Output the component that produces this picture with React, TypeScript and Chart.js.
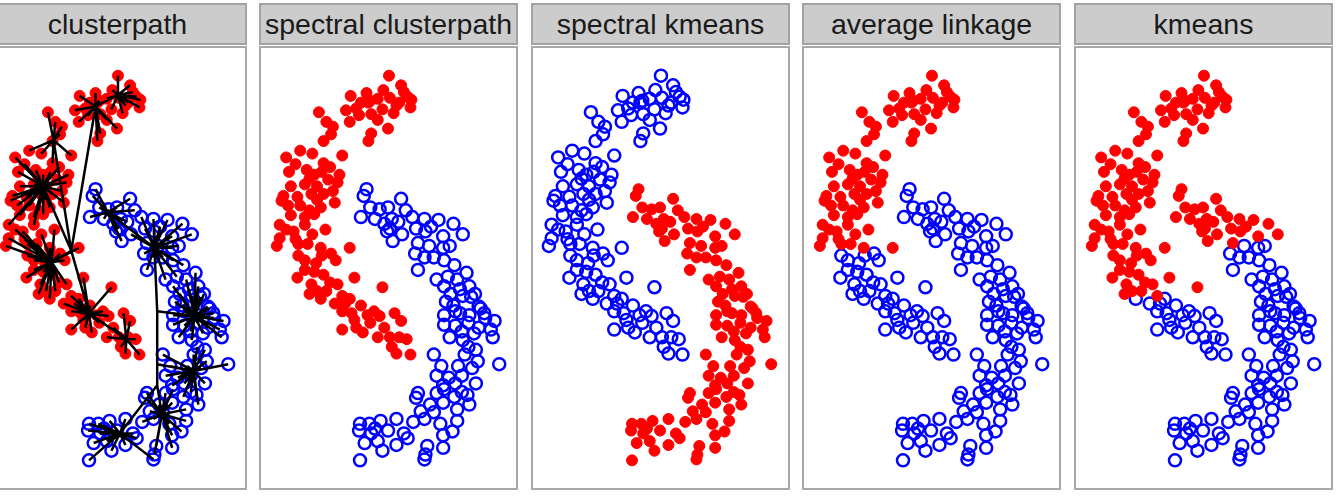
import React, { useEffect, useRef } from 'react';
import { Chart, registerables } from 'chart.js';

Chart.register(...registerables);

// ---------- DATA (x, y in plot units; same points in every panel) ----------
const panelTitles: string[] = ['clusterpath', 'spectral clusterpath', 'spectral kmeans', 'average linkage', 'kmeans'];

const leftMoonUpper: [number, number][] = [
  [130, 422], [143, 412], [146, 405], [124, 407], [106, 404], [89, 401], [154, 397], [131, 399], [141, 394],
  [108, 394], [100, 394], [123, 387], [153, 389], [138, 391], [84, 386], [98, 381], [111, 382], [118, 376],
  [88, 374], [129, 367], [111, 362], [108, 354], [110, 396], [55, 384], [63, 374], [70, 369], [68, 361],
  [60, 354], [35, 344], [48, 341], [20, 337], [80, 339], [60, 331], [23, 322], [42, 324], [50, 319], [77, 319],
  [65, 314], [25, 307], [40, 309], [53, 307], [75, 311], [17, 297], [47, 299], [60, 299], [70, 302], [15, 292],
  [35, 287], [53, 293], [57, 285], [72, 290], [25, 277], [40, 275], [50, 278], [13, 267], [28, 260], [40, 267],
  [48, 257], [13, 253], [10, 245], [33, 247], [43, 247], [57, 243], [88, 243],
  [118, 398], [135, 383], [150, 400], [95, 388], [30, 330], [45, 315], [67, 327], [32, 296], [58, 322],
  [20, 262], [30, 252], [45, 282], [62, 262], [22, 287],
];

const leftMoonMiddle: [number, number][] = [
  [33, 235], [58, 235], [68, 237], [73, 230], [52, 227], [40, 220], [50, 218], [32, 212], [93, 212],
  [47, 205], [67, 207], [75, 205], [53, 198], [63, 198], [80, 193], [123, 202], [40, 230], [60, 215], [45, 195],
];

const leftMoonTail: [number, number][] = [
  [57, 190], [72, 185], [83, 185], [100, 183], [80, 177], [90, 175], [107, 173], [120, 172], [93, 168],
  [80, 158], [95, 160], [102, 155], [114, 177], [136, 175], [143, 167], [131, 150], [141, 150], [149, 148],
  [133, 140], [138, 133], [153, 132], [88, 190], [110, 165], [125, 160], [118, 150],
];

const rightMoonTop: [number, number][] = [
  [103, 297], [106, 304], [100, 275], [110, 285], [115, 273], [120, 283], [125, 268], [128, 260], [143, 294],
  [148, 282], [129, 285], [133, 273], [131, 263], [134, 250], [144, 257], [168, 273], [183, 272], [199, 268],
  [209, 257], [159, 263], [169, 260], [188, 255], [161, 248], [140, 270], [155, 275], [175, 265],
];

const rightMoonRest: [number, number][] = [
  [173, 245], [188, 243], [158, 237], [168, 233], [178, 233], [189, 230], [161, 220], [181, 210], [193, 213],
  [213, 217], [203, 210], [189, 203], [206, 200], [216, 203], [196, 195], [209, 193], [218, 192], [199, 183],
  [226, 182], [189, 173], [206, 175], [216, 173], [233, 170], [243, 167], [189, 163], [201, 162], [226, 160],
  [239, 158], [191, 187], [201, 177], [228, 180], [208, 156], [221, 154], [209, 147], [241, 150], [223, 137],
  [178, 132], [211, 132], [248, 122], [186, 120], [204, 120], [219, 118], [181, 110], [194, 108], [208, 110],
  [188, 100], [201, 102], [223, 102], [161, 92], [181, 92], [208, 93], [159, 87], [189, 96], [214, 90],
  [216, 80], [174, 80], [188, 82], [203, 75], [164, 73], [178, 72], [156, 62], [168, 65], [203, 63], [99, 60],
  [109, 60], [121, 63], [138, 65], [129, 53], [98, 53], [146, 50], [111, 50], [188, 48], [198, 52], [104, 40],
  [118, 42], [138, 38], [171, 37], [188, 35], [123, 32], [169, 28], [168, 23], [99, 22],
  [195, 245], [200, 225], [222, 195], [232, 175], [215, 165], [195, 150], [215, 140], [225, 125], [200, 88],
  [185, 60], [150, 45], [115, 55],
];

// which point groups are coloured red in each panel (the rest are blue)
const redGroupsByPanel: string[][] = [
  ['leftMoonUpper', 'leftMoonMiddle', 'leftMoonTail'],
  ['leftMoonUpper', 'leftMoonMiddle', 'leftMoonTail'],
  ['rightMoonTop', 'rightMoonRest'],
  ['leftMoonUpper'],
  ['leftMoonUpper', 'leftMoonMiddle', 'rightMoonTop'],
];

// clusterpath tree (panel 1): nodes and edges
const treeNodeNames: string[] = ['rA1', 'rA2', 'rB', 'rC', 'jR', 'rD', 'rF', 'rG', 'bA', 'bB', 'j1', 'bC', 'j2', 'bD', 'j3', 'bE', 'bF'];
const treeNodeXY: [number, number][] = [
  [130, 402], [106, 390], [61, 355], [50, 307], [80, 240], [59, 228], [99, 175], [139, 148],
  [119, 280], [169, 243], [172, 177], [212, 172], [172, 122], [211, 115], [172, 100], [177, 70], [132, 50],
];
const treeEdges: [string, string][] = [
  ['rA1', 'rA2'], ['rA2', 'jR'], ['rB', 'jR'], ['rC', 'jR'], ['rD', 'jR'], ['jR', 'rF'], ['rF', 'rG'],
  ['bA', 'bB'], ['bB', 'j1'], ['j1', 'bC'], ['j1', 'j2'], ['j2', 'bD'], ['j2', 'j3'], ['j3', 'bE'], ['j3', 'bF'],
];
const redHubs: string[] = ['rA1', 'rA2', 'rB', 'rC', 'rD', 'rF', 'rG'];
const blueHubs: string[] = ['bA', 'bB', 'bC', 'bD', 'bE', 'bF'];

// ---------- helpers ----------
const groups: Record<string, [number, number][]> = {
  leftMoonUpper, leftMoonMiddle, leftMoonTail, rightMoonTop, rightMoonRest,
};

const nodeXY = (name: string) => treeNodeXY[treeNodeNames.indexOf(name)];

function nearestHub(p: [number, number], hubs: string[]) {
  let best = nodeXY(hubs[0]);
  let bd = Infinity;
  hubs.forEach((h) => {
    const q = nodeXY(h);
    const d = (q[0] - p[0]) ** 2 + (q[1] - p[1]) ** 2;
    if (d < bd) { bd = d; best = q; }
  });
  return best;
}

const RED = '#ff0000';
const BLUE = '#0000ff';
const PANEL_W = 259;
const PANEL_H = 443;
const panelLefts = [-12, 259, 531, 802, 1074];

function Panel({ index }: { index: number }) {
  const ref = useRef<HTMLCanvasElement | null>(null);
  useEffect(() => {
    if (!ref.current) return;
    const redNames = redGroupsByPanel[index];
    const redPts: [number, number][] = [];
    const bluePts: [number, number][] = [];
    Object.keys(groups).forEach((g) => {
      (redNames.includes(g) ? redPts : bluePts).push(...groups[g]);
    });
    const datasets: any[] = [];
    if (index === 0) {
      const seg: any[] = [];
      const push = (a: [number, number], b: [number, number]) => {
        seg.push({ x: a[0], y: a[1] }, { x: b[0], y: b[1] }, { x: null, y: null });
      };
      treeEdges.forEach(([a, b]) => push(nodeXY(a), nodeXY(b)));
      redPts.forEach((p) => push(p, nearestHub(p, redHubs)));
      bluePts.forEach((p) => push(p, nearestHub(p, blueHubs)));
      datasets.push({
        data: seg,
        showLine: true,
        spanGaps: false,
        borderColor: '#000000',
        borderWidth: 2.5,
        pointRadius: 0,
        order: 0,
      });
    }
    datasets.push({
      data: bluePts.map(([x, y]) => ({ x, y })),
      pointStyle: 'circle',
      pointRadius: 6,
      pointBorderWidth: 2.5,
      pointBorderColor: BLUE,
      pointBackgroundColor: 'rgba(0,0,0,0)',
      order: 2,
    });
    datasets.push({
      data: redPts.map(([x, y]) => ({ x, y })),
      pointStyle: 'circle',
      pointRadius: 5.5,
      pointBorderWidth: 1,
      pointBorderColor: RED,
      pointBackgroundColor: RED,
      order: 1,
    });
    const chart = new Chart(ref.current, {
      type: 'scatter',
      data: { datasets },
      options: {
        responsive: false,
        animation: false,
        events: [],
        layout: { padding: 0 },
        plugins: { legend: { display: false }, tooltip: { enabled: false }, title: { display: false } },
        scales: {
          x: { type: 'linear', min: 0, max: PANEL_W, display: false },
          y: { type: 'linear', min: 0, max: PANEL_H, display: false },
        },
      },
    });
    return () => chart.destroy();
  }, [index]);

  const left = panelLefts[index];
  return (
    <>
      <div
        style={{
          position: 'absolute', left, top: 3, width: PANEL_W, height: 42, boxSizing: 'border-box',
          background: '#cccccc', border: '2px solid #a3a3a3',
          display: 'flex', alignItems: 'center', justifyContent: 'center',
          fontFamily: '"Liberation Sans", Arial, Helvetica, sans-serif', fontSize: 28.5, color: '#1a1a1a',
          whiteSpace: 'nowrap',
        }}
      >
        {panelTitles[index]}
      </div>
      <div
        style={{
          position: 'absolute', left, top: 46, width: PANEL_W, height: PANEL_H + 1, boxSizing: 'border-box',
          border: '2px solid #a8a8a8', background: '#ffffff',
        }}
      />
      <canvas
        ref={ref}
        width={PANEL_W}
        height={PANEL_H}
        style={{ position: 'absolute', left, top: 47, width: PANEL_W, height: PANEL_H }}
      />
    </>
  );
}

export default function App() {
  return (
    <div style={{ position: 'absolute', left: 0, top: 0, width: 1342, height: 496, overflow: 'hidden', background: '#ffffff' }}>
      {panelTitles.map((_, i) => (
        <Panel key={i} index={i} />
      ))}
    </div>
  );
}
